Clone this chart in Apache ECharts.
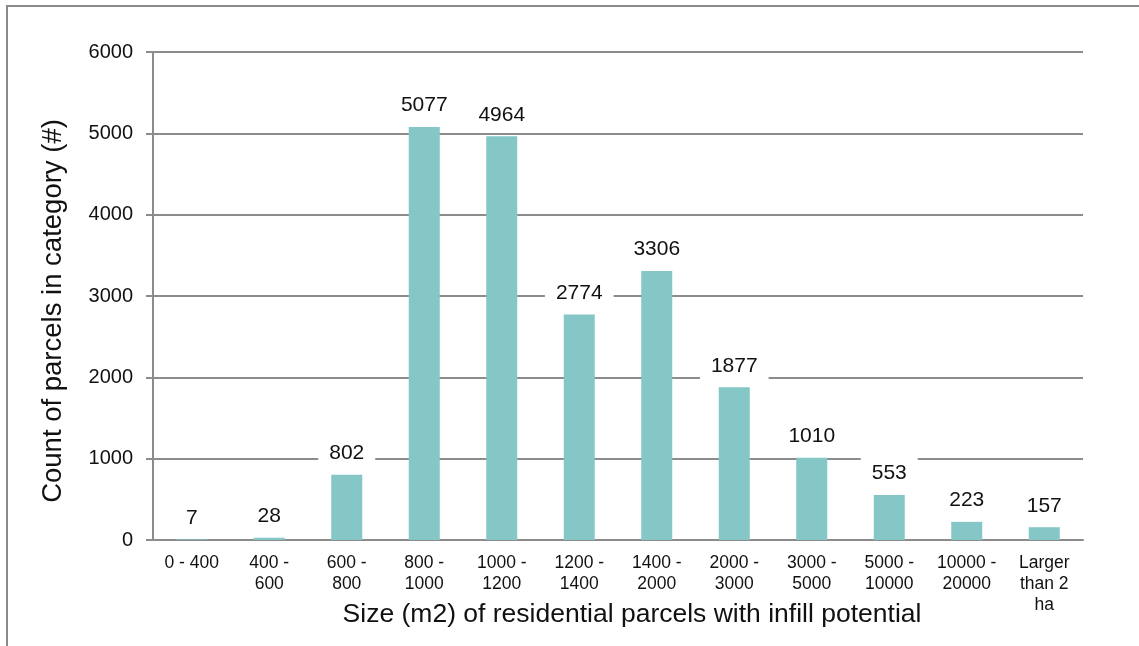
<!DOCTYPE html>
<html><head><meta charset="utf-8">
<script src="https://cdn.jsdelivr.net/npm/echarts@6/dist/echarts.min.js"></script>
<style>html,body{margin:0;padding:0;background:#fff}#c{width:1139px;height:646px}</style>
</head><body><div id="c"></div>
<script>
const categories = ["0 - 400","400 -\n600","600 -\n800","800 -\n1000","1000 -\n1200","1200 -\n1400","1400 -\n2000","2000 -\n3000","3000 -\n5000","5000 -\n10000","10000 -\n20000","Larger\nthan 2\nha"];
const counts = [7,28,802,5077,4964,2774,3306,1877,1010,553,223,157];
const yTitle = "Count of parcels in category (#)";
const xTitle = "Size (m2) of residential parcels with infill potential";
const FONT = "Liberation Sans, Arial, Helvetica, sans-serif";
const chart = echarts.init(document.getElementById('c'), null, {renderer:'canvas'});
chart.setOption({
  animation:false,
  backgroundColor:'#fff',
  graphic:[{type:'rect',shape:{x:7,y:6,width:1200,height:700},style:{fill:'none',stroke:'#8a8a8a',lineWidth:2},silent:true}],
  grid:{left:153,right:56,top:52,bottom:106,containLabel:false,outerBoundsMode:'none'},
  xAxis:{type:'category',data:categories,
    axisLine:{show:true,lineStyle:{color:'#8c8c8c',width:2}},
    axisTick:{show:false},
    axisLabel:{interval:0,color:'#111',fontFamily:FONT,fontSize:17.5,lineHeight:21,margin:13},
    name:xTitle,nameLocation:'middle',nameGap:61,nameMoveOverlap:false,
    nameTextStyle:{color:'#111',fontFamily:FONT,fontSize:26.5,padding:[0,0,0,28]}},
  yAxis:{type:'value',min:0,max:6000,interval:1000,
    axisLine:{show:true,lineStyle:{color:'#8c8c8c',width:2}},
    axisTick:{show:true,length:7,lineStyle:{color:'#8c8c8c',width:2}},
    splitLine:{show:true,lineStyle:{color:'#8c8c8c',width:2}},
    axisLabel:{color:'#111',fontFamily:FONT,fontSize:20,margin:20,formatter:v=>String(v)},
    name:yTitle,nameLocation:'middle',nameGap:86,nameRotate:90,nameMoveOverlap:false,
    nameTextStyle:{color:'#111',fontFamily:FONT,fontSize:27.5,padding:[0,30,0,0]}},
  series:[{type:'bar',data:counts,barWidth:31,
    itemStyle:{color:'#85c6c6'},
    label:{show:true,position:'top',distance:8,color:'#111',fontFamily:FONT,fontSize:21,
      backgroundColor:'#fff',padding:[6,11,3,11]}}]
});
</script></body></html>
